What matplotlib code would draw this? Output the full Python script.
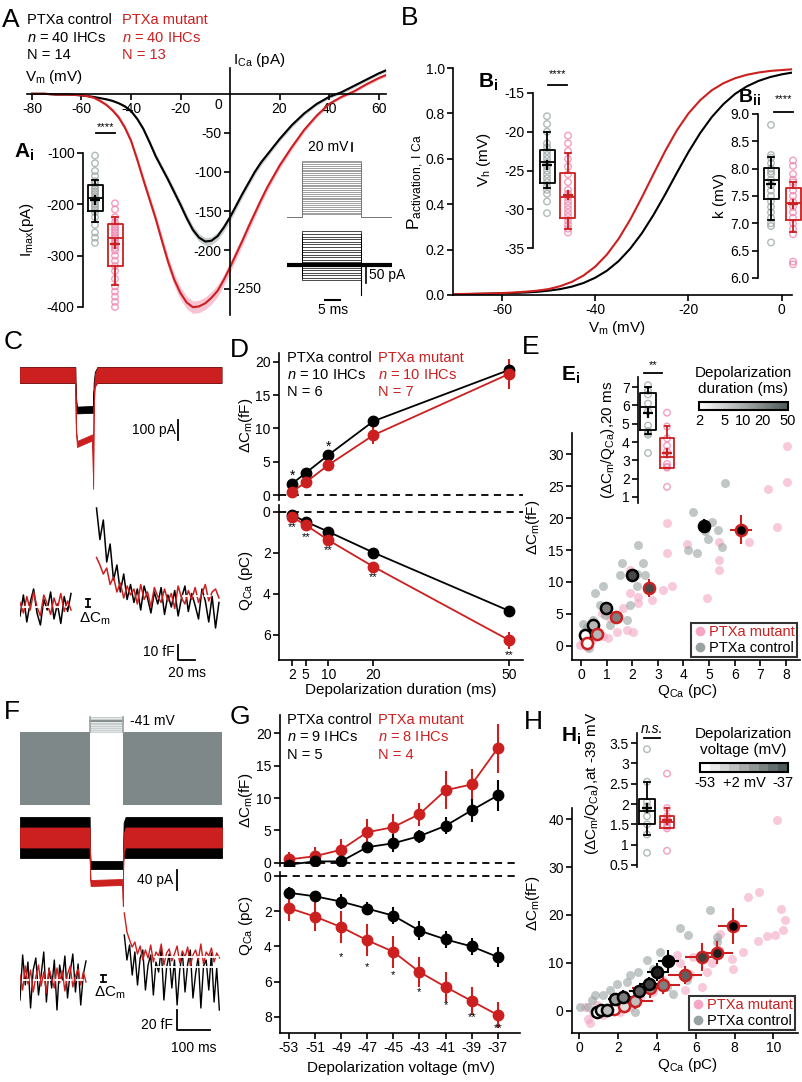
import numpy as np
import matplotlib
matplotlib.use('Agg')
import matplotlib.pyplot as plt
from matplotlib.colors import LinearSegmentedColormap, LogNorm, BoundaryNorm, Normalize
from matplotlib.cm import ScalarMappable
from matplotlib.lines import Line2D
from matplotlib.ticker import FormatStrFormatter

plt.rcParams.update({
    'font.family': ['Liberation Sans', 'DejaVu Sans'],
    'mathtext.fontset': 'custom',
    'mathtext.rm': 'Liberation Sans',
    'mathtext.it': 'Liberation Sans:italic',
    'mathtext.bf': 'Liberation Sans:bold',
    'font.size': 10,
    'axes.unicode_minus': False,
    'axes.linewidth': 1.2,
    'xtick.major.width': 1.2, 'ytick.major.width': 1.2,
    'xtick.major.size': 4, 'ytick.major.size': 4,
    'xtick.labelsize': 10, 'ytick.labelsize': 10,
    'xtick.major.pad': 2, 'ytick.major.pad': 2,
})

RED = '#cc1f1f'
PINK = '#f07fab'
PINKF = '#f4a6c4'
GREY = '#98a2a2'
LBL = 11

# ---------------- data ----------------
# A: I-V
V_iv = [-80, -75, -70, -65, -60, -57.5, -55, -52.5, -50, -47.5, -45, -42.5, -40, -37.5,
        -35, -32.5, -30, -27.5, -25, -22.5, -20, -17.5, -15, -12.5, -10, -7.5, -5, -2.5,
        0, 2.5, 5, 7.5, 10, 12.5, 15, 17.5, 20, 25, 30, 35, 40, 45, 50, 55, 60, 63]
I_ctrl = [0, 0, -1, -1, -2, -3, -4, -5.5, -7, -9, -12, -16, -22, -32, -45, -62, -80, -95,
          -110, -126, -142, -159, -174, -184, -189, -188, -182, -171, -158, -143, -128,
          -114, -100, -88, -78, -68, -58, -40, -25, -13, -4, 2, 10, 18, 26, 30]
I_ctrl_sem = [0, 0, 0, 0, 0.5, 0.7, 1, 1, 1.2, 1.5, 1.5, 2, 2, 2.5, 3, 3.5, 4, 4, 4.5, 5,
              5, 5, 5, 5, 5, 5, 5, 5, 5, 5, 4.5, 4, 4, 4, 3.5, 3, 3, 3, 2.5, 2, 2, 2, 2,
              2, 2, 2]
I_mut = [0, 0, -1, -1, -2, -3, -5, -9, -14, -21, -30, -43, -60, -84, -110, -135, -160,
         -188, -215, -238, -255, -267, -273, -272, -268, -261, -252, -238, -222, -205,
         -188, -170, -153, -136, -120, -106, -92, -68, -46, -28, -13, -4, 3, 12, 20, 24]
I_mut_sem = [0, 0, 0, 0, 0.5, 1, 1.5, 2, 2, 2.5, 3, 3.5, 4, 5, 5.5, 6, 6.5, 7, 7.5, 8, 8,
             8, 8, 8, 8, 8, 7.5, 7, 7, 6.5, 6, 6, 5.5, 5, 4.5, 4, 4, 3.5, 3, 2.5, 2, 2,
             2, 2, 2, 2]
# A inset (example step protocol & currents)
A_hold = -87
A_step_levels = [-80, -75, -70, -65, -60, -55, -50, -45, -40, -35, -30, -25, -20, -15,
                 -10, -5, 0, 5, 10, 15, 20, 25, 30, 35, 40, 45, 50, 55, 60, 63]
A_step_t = [0, 5, 24.7, 35]
A_inset_I = [105, 95, 88, 80, 72, 64, 56, 48, 40, 32, 24, 16, 8, 0, -8, -16, -24, -32, -40, -48]
A_tail = -94
# Ai: Imax box stats (whislo, q1, med, q3, whishi, mean)
Ai_ctrl_stats = (-234, -213, -187, -163, -153, -192)
Ai_mut_stats = (-357, -320, -265, -238, -225, -278)
Ai_ctrl_pts = [-105, -120, -135, -145, -155, -160, -165, -170, -175, -180, -185, -190,
               -195, -200, -205, -210, -215, -225, -240, -255, -265, -275]
Ai_mut_pts = [-198, -210, -225, -235, -240, -245, -250, -255, -260, -265, -270, -275, -280,
              -285, -290, -300, -310, -320, -330, -345, -360, -370, -380, -390, -400]

# B: activation curves
V_b = [-70, -67.5, -65, -62.5, -60, -57.5, -55, -52.5, -50, -47.5, -45, -42.5, -40, -37.5,
       -35, -32.5, -30, -27.5, -25, -22.5, -20, -17.5, -15, -12.5, -10, -7.5, -5, -2.5, 0, 2]
P_ctrl = [0.003, 0.004, 0.005, 0.006, 0.0075, 0.009, 0.011, 0.014, 0.019, 0.026, 0.037,
          0.053, 0.076, 0.107, 0.149, 0.204, 0.272, 0.353, 0.443, 0.538, 0.630, 0.713,
          0.784, 0.841, 0.886, 0.919, 0.943, 0.960, 0.972, 0.979]
P_mut = [0.004, 0.005, 0.006, 0.007, 0.0085, 0.011, 0.0145, 0.019, 0.026, 0.039, 0.058,
         0.086, 0.125, 0.178, 0.247, 0.332, 0.430, 0.533, 0.634, 0.725, 0.800, 0.858,
         0.902, 0.933, 0.955, 0.970, 0.980, 0.987, 0.991, 0.994]
Bi_ctrl_stats = (-27.3, -26.6, -23.9, -22.4, -20.0, -24.3)
Bi_mut_stats = (-32.6, -31.1, -28.4, -25.3, -22.8, -28.1)
Bi_ctrl_pts = [-18, -19, -20, -21.5, -22, -22.5, -23, -23.5, -24, -24.5, -25, -25.5, -26,
               -26.5, -27, -27.5, -28, -29, -30.5]
Bi_mut_pts = [-20.5, -21.5, -22.5, -23.5, -24.5, -25.5, -26.5, -27.5, -28, -28.5, -29,
              -29.5, -30, -30.5, -31, -31.5, -32, -32.5, -33]
Bii_ctrl_stats = (7.07, 7.45, 7.80, 8.02, 8.22, 7.72)
Bii_mut_stats = (6.85, 7.07, 7.37, 7.65, 7.75, 7.35)
Bii_ctrl_pts = [8.8, 8.25, 8.2, 8.1, 8.0, 7.95, 7.9, 7.8, 7.7, 7.6, 7.5, 7.4, 7.3, 7.2,
                7.1, 7.0, 6.95, 6.65]
Bii_mut_pts = [8.15, 8.05, 7.9, 7.8, 7.75, 7.7, 7.6, 7.5, 7.4, 7.3, 7.2, 7.1, 7.0, 6.9,
               6.8, 6.3, 6.25]

# C: example traces (current in pA, Cm in fF, time in ms)
tC_I = [0, 65, 65.6, 67, 85, 86, 86.6, 88, 91, 237]
CI_ctrl = [0, 0, -120, -175, -172, -172, -60, -15, 0, 0]
CI_ctrl_hw = [40, 40, 20, 17, 17, 17, 20, 30, 40, 40]
CI_mut = [0, 0, -250, -345, -312, -560, -150, -30, 0, 0]
CI_mut_hw = [38, 38, 15, 15, 15, 10, 20, 30, 38, 38]
tC_pre = np.arange(0, 61, 4)
tC_post = np.arange(90, 235, 4)
CCm_ctrl_pre = [-6, 8, -10, 3, 12, -4, -12, 5, -2, 10, -8, 2, -11, 7, -3, 9]
CCm_mut_pre = [3, -4, 7, -2, 10, 0, -6, 8, 2, -5, 6, -1, 9, -3, 4, -2]
CCm_ctrl_post = [66, 45, 58, 30, 42, 18, 28, 10, 22, 5, 15, 3, 12, -2, 14, 6, -4, 10, 2, 13,
                 -5, 8, 0, 11, -6, 6, 14, -3, 9, 1, -8, 12, 4, -10, 7, -14, 3]
CCm_mut_post = [33, 28, 22, 26, 15, 20, 10, 16, 6, 14, 8, 12, 2, 15, 5, 10, 0, 13, 7, 3,
                12, 4, 9, -1, 14, 6, 2, 11, 5, 13, 3, 9, 15, 4, 10, 12, 6]
C_post_base = 7

# D: duration series
dur = [2, 5, 10, 20, 50]
D_dcm_ctrl = [1.7, 3.3, 6.0, 11.1, 18.8]
D_dcm_ctrl_err = [0.4, 0.5, 0.6, 0.6, 1.0]
D_dcm_mut = [0.5, 1.9, 4.5, 9.0, 18.2]
D_dcm_mut_err = [0.4, 0.5, 0.8, 1.4, 2.2]
D_q_ctrl = [0.15, 0.47, 0.96, 1.98, 4.82]
D_q_ctrl_err = [0.05, 0.08, 0.1, 0.15, 0.2]
D_q_mut = [0.25, 0.63, 1.37, 2.67, 6.25]
D_q_mut_err = [0.05, 0.1, 0.12, 0.15, 0.42]
D_top_star_dur = [2, 10]
D_top_star_y = [2.9, 7.3]
D_bot_star_y = [0.73, 1.22, 1.85, 3.17, 6.98]

# E: individual cells
E_ctrl_q = [2.18, 2.43, 2.5, 2.24, 2.18, 1.91, 1.59, 1.52, 0.87, 0.55, 0.74, 0.48, 0.22,
            0.09, 0.09, 0.35, 0.94, 1.13, 4.39, 4.84, 5.1, 5.36, 5.63, 4.19, 4.52, 4.97,
            5.5, 1.78, 0.15, 0.3]
E_ctrl_dcm = [11.2, 12.9, 11.1, 15.8, 9.3, 6.4, 12.9, 11.1, 9.3, 8.2, 6.4, 4.1, 3.0, 3.5,
              2.0, 1.2, 4.8, 3.3, 21.0, 17.9, 19.4, 18.1, 25.5, 15.0, 14.6, 16.8, 15.5, 4.1,
              0.5, -0.3]
E_mut_q = [8.03, 8.03, 7.32, 7.64, 6.54, 5.4, 5.4, 5.4, 4.91, 4.15, 3.35, 3.35, 3.54, 3.22,
           2.76, 2.24, 2.24, 1.91, 1.65, 2.04, 1.78, 1.39, 1.07, 0.87, 0.61, 0.42, 0.09,
           -0.04, 0.22, 1.13, 0.81, 1.91]
E_mut_dcm = [31.3, 25.7, 24.6, 18.6, 16.3, 16.3, 13.4, 11.9, 7.5, 16.0, 19.2, 14.5, 9.3,
             8.8, 7.2, 7.7, 6.7, 11.9, 5.9, 2.2, 2.5, 2.2, 1.2, 1.5, 2.2, 0.9, 0.7, 0.2,
             -0.1, 4.3, 5.1, 8.2]
Ei_ctrl_stats = (4.45, 4.65, 5.9, 6.65, 7.0, 5.6)
Ei_mut_stats = (2.6, 2.6, 3.2, 4.2, 4.85, 3.4)
Ei_ctrl_pts = [7.1, 6.8, 6.6, 6.1, 5.7, 4.9, 4.5, 4.4, 4.6, 3.4]
Ei_mut_pts = [5.6, 4.85, 4.2, 3.8, 3.5, 3.3, 2.6, 2.65, 1.55, 2.8]

# F: example traces
tF_I = [0, 211, 212, 214, 310, 311.5, 312.5, 314, 320, 612]
FI_ctrl = [0, 0, -40, -55, -55, -55, -30, -5, 0, 0]
FI_ctrl_hw = [41, 41, 15, 8, 8, 8, 15, 35, 41, 41]
FI_mut = [0, 0, -70, -91, -89, -131, -60, -10, 0, 0]
FI_mut_hw = [20, 20, 10, 6, 6, 6, 10, 18, 20, 20]
F_step_t = [212, 312]
F_end_t = 612
F_sine_band = (-130.7, -53)
tF_pre = np.arange(0, 205, 8)
tF_post = np.arange(316, 605, 8)
FCm_ctrl_pre = [-20, 25, -5, 18, -28, 10, 22, -15, 5, 28, -22, 12, -8, 20, -30, 15, 0, 24,
                -18, 8, 26, -12, 16, -25, 6, 19]
FCm_mut_pre = [5, -10, 14, -4, 10, -12, 3, 15, -6, 8, -13, 11, 2, -8, 12, -3, 9, -11, 6,
               14, -7, 4, 11, -5, 8, -2]
FCm_ctrl_post = [45, 20, 35, 5, 28, -5, 22, 30, -10, 15, 25, -15, 18, 8, 32, -20, 12, 26,
                 -8, 20, -25, 10, 28, -12, 16, 30, -18, 6, 24, -28, 14, 20, -10, 27, -22,
                 12, -30]
FCm_mut_post = [67, 48, 40, 33, 38, 26, 34, 20, 30, 22, 35, 18, 28, 24, 36, 15, 27, 31, 19,
                26, 34, 17, 29, 23, 33, 14, 25, 30, 20, 36, 16, 28, 24, 32, 18, 27, 22]
F_post_base = [23, 13]

# G: voltage series
volt = [-53, -51, -49, -47, -45, -43, -41, -39, -37]
G_dcm_ctrl = [-0.3, 0.2, 0.2, 2.4, 3.0, 4.1, 5.7, 8.1, 10.4]
G_dcm_ctrl_err = [0.5, 0.5, 0.5, 0.8, 1.4, 1.0, 1.3, 1.8, 2.4]
G_dcm_mut = [0.5, 1.0, 2.0, 4.7, 5.5, 7.5, 11.2, 12.1, 17.7]
G_dcm_mut_err = [1.1, 1.5, 1.7, 2.0, 2.0, 1.8, 2.9, 2.4, 3.8]
G_q_ctrl = [0.95, 1.15, 1.45, 1.85, 2.25, 3.1, 3.6, 4.0, 4.6]
G_q_ctrl_err = [0.35, 0.3, 0.45, 0.35, 0.5, 0.55, 0.5, 0.5, 0.55]
G_q_mut = [1.82, 2.3, 2.9, 3.65, 4.3, 5.45, 6.3, 7.1, 7.9]
G_q_mut_err = [0.75, 0.85, 0.9, 0.9, 0.9, 0.85, 0.85, 0.8, 0.75]
G_star_volt = [-49, -47, -45, -43, -41, -39, -37]
G_star_lbl = ['*', '*', '*', '*', '*', '**', '**']
G_star_y = [4.6, 5.2, 5.6, 6.6, 7.35, 8.0, 8.65]

# H: individual cells
H_ctrl_q = [6.74, 5.19, 5.62, 7.08, 7.08, 4.16, 3.48, 3.82, 3.05, 2.62, 2.45, 1.94, 1.59,
            1.25, 0.82, 0.65, 0.05, 0.48, 2.88, 4.85, 4.51, 5.54]
H_ctrl_dcm = [21.0, 17.2, 15.8, 15.4, 14.4, 12.3, 10.6, 8.8, 8.1, 7.4, 6.0, 5.7, 4.3, 3.3,
              3.3, 2.2, 0.8, 0.8, -0.2, 3.6, 5.0, 6.4]
H_mut_q = [10.16, 8.7, 9.27, 10.4, 10.6, 10.5, 10.1, 9.65, 9.22, 8.45, 7.85, 7.93, 7.25,
           7.21, 6.82, 6.56, 6.31, 5.45, 5.71, 5.19, 5.88, 5.02, 4.33, 3.82, 3.14, 2.62,
           2.11, 1.59, 1.25, 0.74, 0.48, 0.57, 0.31, 0.91, 1.08]
H_mut_dcm = [39.7, 23.8, 24.8, 21.3, 18.9, 16.8, 15.8, 15.6, 14.6, 12.3, 10.9, 8.8, 16.1,
             12.6, 9.9, 8.1, 5.0, 4.3, 7.8, 9.9, 11.3, 11.6, 6.4, 4.0, 2.9, 0.8, -0.2, 0.1,
             -0.9, -0.5, -1.6, -2.6, 0.8, 1.2, -0.2]
Hi_ctrl_stats = (1.25, 1.52, 1.82, 2.12, 2.55, 1.9)
Hi_mut_stats = (1.4, 1.4, 1.57, 1.7, 1.9, 1.6)
Hi_ctrl_pts = [3.35, 2.55, 2.05, 1.95, 1.85, 1.7, 1.5, 1.25, 0.8]
Hi_mut_pts = [2.75, 1.9, 1.7, 1.6, 1.55, 1.45, 1.4, 0.85]

# ---------------- figure helpers ----------------
W, H = 802, 1082
fig = plt.figure(figsize=(W / 100, H / 100), dpi=100)


def ax_px(l, t, r, b):
    a = fig.add_axes([l / W, 1 - b / H, (r - l) / W, (b - t) / H])
    a.patch.set_alpha(0)
    return a


def ftext(x, y, s, **kw):
    kw.setdefault('ha', 'left')
    kw.setdefault('va', 'center')
    return fig.text(x / W, 1 - y / H, s, **kw)


def clean(ax, bottom=True):
    ax.spines['top'].set_visible(False)
    ax.spines['right'].set_visible(False)
    if not bottom:
        ax.spines['bottom'].set_visible(False)
        ax.set_xticks([])


def draw_box(ax, pos, st, pts, color, ptcolor, w):
    d = dict(whislo=st[0], q1=st[1], med=st[2], q3=st[3], whishi=st[4], mean=st[5], fliers=[])
    ax.scatter([pos] * len(pts), pts, s=22, facecolors='none', edgecolors=ptcolor,
               linewidths=1.0, alpha=0.75, zorder=1, clip_on=False)
    ax.bxp([d], positions=[pos], widths=[w], showmeans=True, showfliers=False,
           capwidths=[w * 0.35], manage_ticks=False,
           boxprops=dict(color=color, lw=1.3), medianprops=dict(color=color, lw=1.3),
           whiskerprops=dict(color=color, lw=1.3), capprops=dict(color=color, lw=1.3),
           meanprops=dict(marker='+', markeredgecolor=color, markersize=7, markeredgewidth=1.6))


def inset(l, t, r, b, ylim, yticks, fmt='%g'):
    a = ax_px(l, t, r, b)
    a.set_xlim(0, r - l)
    a.set_ylim(*ylim)
    for s in ['top', 'right', 'bottom']:
        a.spines[s].set_visible(False)
    a.set_xticks([])
    a.set_yticks(yticks)
    a.yaxis.set_major_formatter(FormatStrFormatter(fmt))
    return a


def sig(ax, x0, x1, ybar, ystar, label, style='normal'):
    ax.plot([x0, x1], [ybar, ybar], color='k', lw=1.3, clip_on=False)
    ax.text((x0 + x1) / 2, ystar, label, ha='center', va='center',
            fontsize=8 if '*' in label else 10, style=style, clip_on=False)


# panel letters
for letter, x, y in [('A', 2, 20), ('B', 401, 18), ('C', 4, 342), ('D', 230, 350),
                     ('E', 522, 347), ('F', 4, 712), ('G', 230, 717), ('H', 524, 722)]:
    ftext(x, y, letter, fontsize=19)

# ================= Panel A =================
axA = ax_px(27, 68, 386, 315)
axA.set_xlim(-82, 63)
axA.set_ylim(-283, 33)
for s in ['top', 'right']:
    axA.spines[s].set_visible(False)
axA.spines['left'].set_position(('data', 0))
axA.spines['bottom'].set_position(('data', 0))
Ic, Icse = np.array(I_ctrl), np.array(I_ctrl_sem)
Im, Imse = np.array(I_mut), np.array(I_mut_sem)
axA.fill_between(V_iv, Ic - Icse, Ic + Icse, color='#c9cfcf', lw=0)
axA.fill_between(V_iv, Im - Imse, Im + Imse, color='#f7c3d3', lw=0)
axA.plot(V_iv, I_ctrl, color='k', lw=1.5)
axA.plot(V_iv, I_mut, color=RED, lw=1.5)
axA.set_xticks([-80, -60, -40, -20, 20, 40, 60])
axA.set_yticks([-50, -100, -150, -200, -250])
axA.set_yticklabels(['-50', '-100', '-150', '-200', ''])
axA.text(-3, -6, '0', ha='right', va='top', fontsize=10)
axA.text(1.5, -250, '-250', ha='left', va='center', fontsize=10)
ftext(25, 77, r'V$_\mathrm{m}$ (mV)', fontsize=LBL)
ftext(233, 60, r'I$_\mathrm{Ca}$ (pA)', fontsize=LBL)
ftext(27, 20, 'PTXa control', fontsize=10.5)
ftext(27, 38, r'$n$ = 40 IHCs', fontsize=10.5)
ftext(27, 55, 'N = 14', fontsize=10.5)
ftext(122, 20, 'PTXa mutant', fontsize=10.5, color=RED)
ftext(122, 38, r'$n$ = 40 IHCs', fontsize=10.5, color=RED)
ftext(122, 55, 'N = 13', fontsize=10.5, color=RED)

# A inset: voltage protocol
axAv = ax_px(287, 140, 392, 222)
axAv.axis('off')
axAv.set_xlim(0, 35)
axAv.set_ylim(-100.4, 119.4)
t0, t1, t2, t3 = A_step_t
for lv in A_step_levels:
    axAv.plot([t0, t1, t1, t2, t2, t3], [A_hold, A_hold, lv, lv, A_hold, A_hold],
              color='#777777', lw=0.5)
axAv.plot([21.5, 21.5], [90, 111], color='k', lw=1.2)
axAv.text(20.5, 100, '20 mV', ha='right', va='center', fontsize=10)
# A inset: currents
axAi = ax_px(287, 222, 392, 305)
axAi.axis('off')
axAi.set_xlim(0, 35)
axAi.set_ylim(-125, 134)
for lv in A_inset_I:
    axAi.plot([t0, t1, t1, t2, t2, t3], [0, 0, lv, lv, 0, 0], color='k', lw=0.5)
axAi.plot([t0, t3], [0, 0], color='k', lw=3)
axAi.plot([t2, t2], [0, A_tail], color='k', lw=0.8)
axAi.plot([26.2, 26.2], [-6, -56], color='k', lw=1.2, clip_on=False)
axAi.text(27.2, -31, '50 pA', ha='left', va='center', fontsize=10)
axAi.plot([12.7, 17.7], [-109, -109], color='k', lw=1.5, clip_on=False)
axAi.text(15.2, -140, '5 ms', ha='center', va='center', fontsize=10, clip_on=False)

# Ai inset box plots
axAib = inset(83, 153, 130, 307, (-400, -100), [-100, -200, -300, -400])
draw_box(axAib, 12, Ai_ctrl_stats, Ai_ctrl_pts, 'k', GREY, 15)
draw_box(axAib, 32, Ai_mut_stats, Ai_mut_pts, RED, PINK, 15)
sig(axAib, 13, 32, -61, -50, '****')
ftext(14, 152, r'$\mathbf{A_i}$', fontsize=15)
ftext(27, 230, r'I$_\mathrm{max}$(pA)', rotation=90, ha='center', fontsize=LBL)

# ================= Panel B =================
axB = ax_px(453, 68, 792, 295)
axB.set_xlim(-70.5, 2.2)
axB.set_ylim(0, 1.0)
clean(axB)
axB.plot(V_b, P_ctrl, color='k', lw=1.5)
axB.plot(V_b, P_mut, color=RED, lw=1.5)
axB.set_yticks([0, 0.2, 0.4, 0.6, 0.8, 1.0])
axB.yaxis.set_major_formatter(FormatStrFormatter('%.1f'))
axB.set_xticks([-60, -40, -20, 0])
ftext(617, 328, r'V$_\mathrm{m}$ (mV)', ha='center', fontsize=LBL)
ftext(416, 182, r'P$_\mathrm{activation,\ I\ Ca}$', rotation=90, ha='center', fontsize=12.5)

axBi = inset(533, 93, 580, 248, (-35, -15), [-15, -20, -25, -30, -35])
draw_box(axBi, 14, Bi_ctrl_stats, Bi_ctrl_pts, 'k', GREY, 15)
draw_box(axBi, 35, Bi_mut_stats, Bi_mut_pts, RED, PINK, 15)
sig(axBi, 15, 34, -13.97, -12.6, '****')
ftext(478, 82, r'$\mathbf{B_i}$', fontsize=15)
ftext(484, 160, r'V$_\mathrm{h}$ (mV)', rotation=90, ha='center', fontsize=LBL)

axBii = inset(758, 114, 802, 278, (6.0, 9.0), [6.0, 6.5, 7.0, 7.5, 8.0, 8.5, 9.0], '%.1f')
draw_box(axBii, 13, Bii_ctrl_stats, Bii_ctrl_pts, 'k', GREY, 15)
draw_box(axBii, 35, Bii_mut_stats, Bii_mut_pts, RED, PINK, 15)
sig(axBii, 16, 35, 9.04, 9.28, '****')
ftext(738, 97, r'$\mathbf{B_{ii}}$', fontsize=14)
ftext(720, 196, 'k (mV)', rotation=90, ha='center', fontsize=LBL)

# ================= Panel C =================
axCi = ax_px(20, 355, 222, 495)
axCi.axis('off')
axCi.set_xlim(0, 237.6)
axCi.set_ylim(-600, 100)
cc, cch = np.array(CI_ctrl), np.array(CI_ctrl_hw)
cm_, cmh = np.array(CI_mut), np.array(CI_mut_hw)
axCi.fill_between(tC_I, cc - cch, cc + cch, color='k', lw=0.6, edgecolor='k')
axCi.fill_between(tC_I, cm_ - cmh, cm_ + cmh, color=RED, lw=0.6, edgecolor=RED)
axCi.plot([186, 186], [-225, -325], color='k', lw=1.3)
axCi.text(183, -275, '100 pA', ha='right', va='center', fontsize=10)

axCc = ax_px(20, 495, 222, 665)
axCc.axis('off')
axCc.set_xlim(0, 237.6)
axCc.set_ylim(-38.7, 74.7)
axCc.plot(tC_pre, CCm_ctrl_pre, color='k', lw=1.1)
axCc.plot(tC_post, CCm_ctrl_post, color='k', lw=1.1)
axCc.plot(tC_pre, CCm_mut_pre, color=RED, lw=1.1)
axCc.plot(tC_post, CCm_mut_post, color=RED, lw=1.1)
axCc.plot([2, 55], [0, 0], color='white', lw=1.3, ls=(0, (4, 2)))
axCc.plot([190, 230], [C_post_base, C_post_base], color='white', lw=1.3, ls=(0, (4, 2)))
axCc.plot([80, 80], [0, 5.3], color='k', lw=1.3)
axCc.plot([77.5, 82.5], [0, 0], color='k', lw=1.3)
axCc.plot([77.5, 82.5], [5.3, 5.3], color='k', lw=1.3)
axCc.text(88, -8, r'ΔC$_\mathrm{m}$', ha='center', va='center', fontsize=LBL)
axCc.plot([186, 186, 206], [-25.3, -35.3, -35.3], color='k', lw=1.3, clip_on=False)
axCc.text(182, -30, '10 fF', ha='right', va='center', fontsize=10)
axCc.text(196, -44, '20 ms', ha='center', va='center', fontsize=10, clip_on=False)

# ================= Panel D =================
axDt = ax_px(279, 353, 523, 500)
axDt.set_xlim(-0.9, 53.1)
axDt.set_ylim(-0.75, 21.35)
clean(axDt, bottom=False)
axDt.axhline(0, color='k', lw=1.3, ls=(0, (4, 3)))
axDt.errorbar(dur, D_dcm_ctrl, yerr=D_dcm_ctrl_err, fmt='o-', color='k', ms=7.5, lw=1.3,
              elinewidth=1.5, capsize=0, zorder=3)
axDt.errorbar(dur, D_dcm_mut, yerr=D_dcm_mut_err, fmt='o-', color=RED, ms=7.5, lw=1.3,
              elinewidth=1.5, capsize=0, zorder=3)
axDt.set_yticks([0, 5, 10, 15, 20])
for x, y in zip(D_top_star_dur, D_top_star_y):
    axDt.text(x, y, '*', ha='center', va='center', fontsize=10)

axDb = ax_px(279, 505, 523, 660)
axDb.set_xlim(-0.9, 53.1)
axDb.set_ylim(7.22, -0.34)
clean(axDb)
axDb.axhline(0, color='k', lw=1.3, ls=(0, (4, 3)))
axDb.errorbar(dur, D_q_ctrl, yerr=D_q_ctrl_err, fmt='o-', color='k', ms=7.5, lw=1.3,
              elinewidth=1.5, capsize=0, zorder=3)
axDb.errorbar(dur, D_q_mut, yerr=D_q_mut_err, fmt='o-', color=RED, ms=7.5, lw=1.3,
              elinewidth=1.5, capsize=0, zorder=3)
axDb.set_yticks([0, 2, 4, 6])
axDb.set_xticks(dur)
for x, y in zip(dur, D_bot_star_y):
    axDb.text(x, y, '**', ha='center', va='center', fontsize=8)
ftext(401, 690, 'Depolarization duration (ms)', ha='center', fontsize=LBL)
ftext(246, 425, r'ΔC$_\mathrm{m}$(fF)', rotation=90, ha='center', fontsize=LBL)
ftext(246, 580, r'Q$_\mathrm{Ca}$ (pC)', rotation=90, ha='center', fontsize=LBL)
ftext(287, 358, 'PTXa control', fontsize=10.5)
ftext(287, 375, r'$n$ = 10 IHCs', fontsize=10.5)
ftext(287, 392, 'N = 6', fontsize=10.5)
ftext(378, 358, 'PTXa mutant', fontsize=10.5, color=RED)
ftext(378, 375, r'$n$ = 10 IHCs', fontsize=10.5, color=RED)
ftext(378, 392, 'N = 7', fontsize=10.5, color=RED)

# ================= Panel E =================
cmap_g = LinearSegmentedColormap.from_list('g', ['white', '#4d5858'])
cmap_m = LinearSegmentedColormap.from_list('m', ['white', 'black'])
norm_dur = LogNorm(2, 50)

axE = ax_px(572, 433, 800, 660)
axE.set_xlim(-0.35, 8.55)
axE.set_ylim(-2.2, 33.3)
clean(axE)
axE.scatter(E_mut_q, E_mut_dcm, s=42, color=PINKF, alpha=0.6, lw=0, zorder=1)
axE.scatter(E_ctrl_q, E_ctrl_dcm, s=42, color=GREY, alpha=0.6, lw=0, zorder=1)
for i in range(len(dur)):
    fc = cmap_m(norm_dur(dur[i]))
    axE.errorbar(D_q_ctrl[i], D_dcm_ctrl[i], xerr=D_q_ctrl_err[i], yerr=D_dcm_ctrl_err[i],
                 fmt='o', mfc=fc, mec='k', ecolor='k', ms=8, mew=1.8, elinewidth=1.5,
                 capsize=0, zorder=4)
    axE.errorbar(D_q_mut[i], D_dcm_mut[i], xerr=D_q_mut_err[i], yerr=D_dcm_mut_err[i],
                 fmt='o', mfc=fc, mec=RED, ecolor=RED, ms=8, mew=1.8, elinewidth=1.5,
                 capsize=0, zorder=4)
axE.set_xticks(range(0, 9))
axE.set_yticks([0, 5, 10, 15, 20, 25, 30])
hm = Line2D([], [], marker='o', ls='', mfc=PINKF, mec='none', ms=7)
hc = Line2D([], [], marker='o', ls='', mfc=GREY, mec='none', ms=7)
leg = axE.legend([hm, hc], ['PTXa mutant', 'PTXa control'], loc='lower right', frameon=True,
                 fancybox=False, edgecolor='k', handletextpad=0.1, borderpad=0.15,
                 handlelength=1.0, borderaxespad=0.2, labelspacing=0.1, fontsize=10.5)
leg.get_frame().set_linewidth(1.5)
leg.get_texts()[0].set_color(RED)
ftext(688, 691, r'Q$_\mathrm{Ca}$ (pC)', ha='center', fontsize=LBL)
ftext(533, 527, r'ΔC$_\mathrm{m}$(fF)', rotation=90, ha='center', fontsize=LBL)

axEi = inset(638, 377, 680, 503, (0.67, 7.55), [1, 2, 3, 4, 5, 6, 7])
draw_box(axEi, 10, Ei_ctrl_stats, Ei_ctrl_pts, 'k', GREY, 16)
draw_box(axEi, 29, Ei_mut_stats, Ei_mut_pts, RED, PINK, 14)
sig(axEi, 6, 24, 7.77, 8.2, '**')
ftext(561, 375, r'$\mathbf{E_i}$', fontsize=15)
ftext(608, 440, r'(ΔC$_\mathrm{m}$/Q$_\mathrm{Ca}$),20 ms', rotation=90, ha='center', fontsize=LBL)

caxE = ax_px(699, 402, 788, 410)
cbE = fig.colorbar(ScalarMappable(norm=norm_dur, cmap=cmap_g), cax=caxE, orientation='horizontal')
cbE.set_ticks(dur)
cbE.set_ticklabels([str(d) for d in dur])
cbE.ax.minorticks_off()
cbE.ax.tick_params(length=0, pad=3, labelsize=10.5)
cbE.outline.set_linewidth(1.5)
ftext(743, 381, 'Depolarization\nduration (ms)', ha='center', fontsize=11, linespacing=1.1)

# ================= Panel F =================
axFv = ax_px(20, 710, 222, 810)
axFv.axis('off')
axFv.set_xlim(0, F_end_t)
axFv.set_ylim(-136, -29.6)
axFv.fill_between([0, F_step_t[0]], F_sine_band[0], F_sine_band[1], color='#7f8888', lw=0)
axFv.fill_between([F_step_t[1], F_end_t], F_sine_band[0], F_sine_band[1], color='#7f8888', lw=0)
axFv.fill_between(F_step_t, volt[0], volt[-1], color='#e3e7e7', lw=0)
for v in volt:
    axFv.plot(F_step_t, [v, v], color='#c5cbcb', lw=0.6)
axFv.plot(F_step_t, [-41, -41], color='#7f8888', lw=1.3)
for t in F_step_t:
    axFv.plot([t, t], [F_sine_band[1], volt[-1]], color='#9aa2a2', lw=1.2)
axFv.text(333, -41, '-41 mV', ha='left', va='center', fontsize=10)

axFi = ax_px(20, 810, 222, 910)
axFi.axis('off')
axFi.set_xlim(0, F_end_t)
axFi.set_ylim(-145, 55)
fc_, fch = np.array(FI_ctrl), np.array(FI_ctrl_hw)
fm_, fmh = np.array(FI_mut), np.array(FI_mut_hw)
axFi.fill_between(tF_I, fc_ - fch, fc_ + fch, color='k', lw=0.6, edgecolor='k')
axFi.fill_between(tF_I, fm_ - fmh, fm_ + fmh, color=RED, lw=0.6, edgecolor=RED)
axFi.plot([476, 476], [-65, -105], color='k', lw=1.3)
axFi.text(464, -85, '40 pA', ha='right', va='center', fontsize=10)

axFc = ax_px(20, 910, 222, 1060)
axFc.axis('off')
axFc.set_xlim(0, F_end_t)
axFc.set_ylim(-80, 70)
axFc.plot(tF_pre, FCm_ctrl_pre, color='k', lw=1.0)
axFc.plot(tF_post, FCm_ctrl_post, color='k', lw=1.0)
axFc.plot(tF_pre, FCm_mut_pre, color=RED, lw=1.0)
axFc.plot(tF_post, FCm_mut_post, color=RED, lw=1.0)
axFc.plot([6, 200], [0, 0], color='white', lw=1.3, ls=(0, (4, 2)))
for b in F_post_base:
    axFc.plot([409, 600], [b, b], color='white', lw=1.3)
axFc.plot([252, 252], [-2, 5], color='k', lw=1.3)
axFc.plot([244, 260], [-2, -2], color='k', lw=1.3)
axFc.plot([244, 260], [5, 5], color='k', lw=1.3)
axFc.text(273, -13, r'ΔC$_\mathrm{m}$', ha='center', va='center', fontsize=LBL)
axFc.plot([476, 476, 576], [-30, -50, -50], color='k', lw=1.3, clip_on=False)
axFc.text(464, -45, '20 fF', ha='right', va='center', fontsize=10)
axFc.text(526, -68, '100 ms', ha='center', va='center', fontsize=10, clip_on=False)

# ================= Panel G =================
axGt = ax_px(280, 715, 520, 866)
axGt.set_xlim(-53.67, -35.3)
axGt.set_ylim(-0.51, 22.83)
clean(axGt, bottom=False)
axGt.axhline(0, color='k', lw=1.3, ls=(0, (4, 3)))
axGt.errorbar(volt, G_dcm_mut, yerr=G_dcm_mut_err, fmt='o-', color=RED, ms=7.5, lw=1.3,
              elinewidth=1.5, capsize=0, zorder=3)
axGt.errorbar(volt, G_dcm_ctrl, yerr=G_dcm_ctrl_err, fmt='o-', color='k', ms=7.5, lw=1.3,
              elinewidth=1.5, capsize=0, zorder=3)
axGt.set_yticks([0, 5, 10, 15, 20])

axGb = ax_px(280, 872, 520, 1033)
axGb.set_xlim(-53.67, -35.3)
axGb.set_ylim(8.92, -0.23)
clean(axGb)
axGb.axhline(0, color='k', lw=1.3, ls=(0, (4, 3)))
axGb.errorbar(volt, G_q_ctrl, yerr=G_q_ctrl_err, fmt='o-', color='k', ms=7.5, lw=1.3,
              elinewidth=1.5, capsize=0, zorder=3)
axGb.errorbar(volt, G_q_mut, yerr=G_q_mut_err, fmt='o-', color=RED, ms=7.5, lw=1.3,
              elinewidth=1.5, capsize=0, zorder=3)
axGb.set_yticks([0, 2, 4, 6, 8])
axGb.set_xticks(volt)
for x, y, s in zip(G_star_volt, G_star_y, G_star_lbl):
    axGb.text(x, y, s, ha='center', va='center', fontsize=8, clip_on=False)
ftext(401, 1068, 'Depolarization voltage (mV)', ha='center', fontsize=LBL)
ftext(246, 800, r'ΔC$_\mathrm{m}$(fF)', rotation=90, ha='center', fontsize=LBL)
ftext(246, 925, r'Q$_\mathrm{Ca}$ (pC)', rotation=90, ha='center', fontsize=LBL)
ftext(287, 720, 'PTXa control', fontsize=10.5)
ftext(287, 737, r'$n$ = 9 IHCs', fontsize=10.5)
ftext(287, 755, 'N = 5', fontsize=10.5)
ftext(378, 720, 'PTXa mutant', fontsize=10.5, color=RED)
ftext(378, 737, r'$n$ = 8 IHCs', fontsize=10.5, color=RED)
ftext(378, 755, 'N = 4', fontsize=10.5, color=RED)

# ================= Panel H =================
norm_v = BoundaryNorm(np.arange(-54, -35, 2), 256)
norm_vm = Normalize(-53, -37)

axH = ax_px(572, 808, 798, 1033)
axH.set_xlim(-0.36, 11.26)
axH.set_ylim(-4.6, 42.3)
clean(axH)
axH.scatter(H_mut_q, H_mut_dcm, s=42, color=PINKF, alpha=0.6, lw=0, zorder=1)
axH.scatter(H_ctrl_q, H_ctrl_dcm, s=42, color=GREY, alpha=0.6, lw=0, zorder=1)
for i in range(len(volt)):
    fc = cmap_m(norm_vm(volt[i]))
    axH.errorbar(G_q_ctrl[i], G_dcm_ctrl[i], xerr=G_q_ctrl_err[i], yerr=G_dcm_ctrl_err[i],
                 fmt='o', mfc=fc, mec='k', ecolor='k', ms=8, mew=1.8, elinewidth=1.5,
                 capsize=0, zorder=4)
    axH.errorbar(G_q_mut[i], G_dcm_mut[i], xerr=G_q_mut_err[i], yerr=G_dcm_mut_err[i],
                 fmt='o', mfc=fc, mec=RED, ecolor=RED, ms=8, mew=1.8, elinewidth=1.5,
                 capsize=0, zorder=4)
axH.set_xticks([0, 2, 4, 6, 8, 10])
axH.set_yticks([0, 10, 20, 30, 40])
leg = axH.legend([hm, hc], ['PTXa mutant', 'PTXa control'], loc='lower right', frameon=True,
                 fancybox=False, edgecolor='k', handletextpad=0.1, borderpad=0.15,
                 handlelength=1.0, borderaxespad=0.2, labelspacing=0.1, fontsize=10.5)
leg.get_frame().set_linewidth(1.5)
leg.get_texts()[0].set_color(RED)
ftext(688, 1065, r'Q$_\mathrm{Ca}$ (pC)', ha='center', fontsize=LBL)
ftext(533, 903, r'ΔC$_\mathrm{m}$(fF)', rotation=90, ha='center', fontsize=LBL)

axHi = inset(637, 733, 680, 867, (0.45, 3.75), [0.5, 1, 1.5, 2, 2.5, 3, 3.5])
draw_box(axHi, 10, Hi_ctrl_stats, Hi_ctrl_pts, 'k', GREY, 16)
draw_box(axHi, 30, Hi_mut_stats, Hi_mut_pts, RED, PINK, 14)
sig(axHi, 7, 23, 3.63, 3.86, 'n.s.', style='italic')
ftext(561, 736, r'$\mathbf{H_i}$', fontsize=15)
ftext(592, 783, r'(ΔC$_\mathrm{m}$/Q$_\mathrm{Ca}$),at -39 mV', rotation=90, ha='center', fontsize=LBL)

caxH = ax_px(700, 763, 788, 772)
cbH = fig.colorbar(ScalarMappable(norm=norm_v, cmap=cmap_g), cax=caxH, orientation='horizontal')
cbH.set_ticks([-53, -45, -37])
cbH.set_ticklabels(['-53', '+2 mV', '-37'])
cbH.ax.minorticks_off()
cbH.ax.tick_params(length=0, pad=3, labelsize=10.5)
cbH.outline.set_linewidth(1.5)
ftext(743, 742, 'Depolarization\nvoltage (mV)', ha='center', fontsize=11, linespacing=1.1)

fig.savefig('out.png', dpi=100)
